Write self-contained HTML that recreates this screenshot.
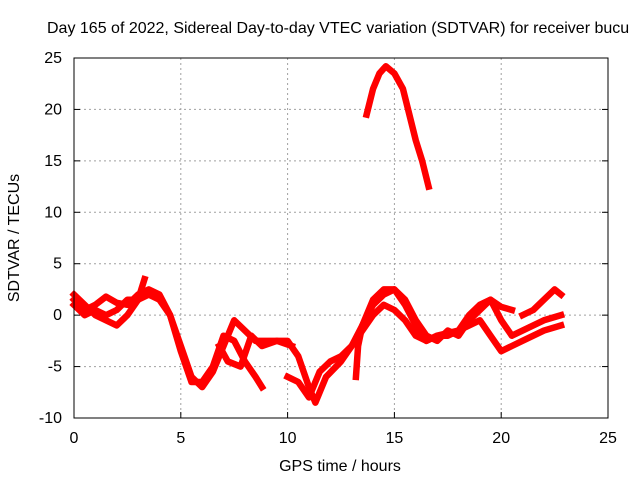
<!DOCTYPE html>
<html><head><meta charset="utf-8"><style>
body{margin:0;background:#fff}
svg{display:block;font-family:"Liberation Sans",sans-serif;font-size:16px}
</style></head><body>
<svg id="chart" width="640" height="480">
<text x="47" y="33">Day 165 of 2022, Sidereal Day-to-day VTEC variation (SDTVAR) for receiver bucu</text>
<g id="grid"></g>
<g id="ticks"></g>
<g id="series"></g>
<rect x="74" y="58" width="534" height="360" fill="none" stroke="#000"/>
<text x="340" y="471" text-anchor="middle">GPS time / hours</text>
<text transform="translate(19,238) rotate(-90)" text-anchor="middle">SDTVAR / TECUs</text>
</svg>
<script>
const xTicks=[0,5,10,15,20,25];
const yTicks=[-10,-5,0,5,10,15,20,25];
const sTop=[[13.7,19.5],[14,22],[14.3,23.5],[14.6,24.2],[15,23.5],[15.4,22],[15.7,19.5],[16,17],[16.3,15],[16.6,12.5]];
const sA=[[0,1.5],[0.5,0.5],[1,1],[1.5,1.8],[2,1.2],[2.5,1],[3,2],[3.5,2.5],[4,2],[4.5,0],[5,-3],[5.5,-6],[6,-7],[6.5,-5.5],[7,-3],[7.5,-0.5],[8,-1.5],[8.5,-2.5],[9,-2.5],[10,-2.5],[10.5,-4],[11,-7],[11.3,-8.5],[11.8,-6],[12.5,-4.5],[13,-3],[13.5,-1],[14,1.5],[14.5,2.5],[15,2.5],[15.5,1],[16,-1],[16.5,-2.5],[17,-2],[17.5,-2],[18,-1.5],[18.5,0],[19,1],[19.5,1.5],[20,0.8],[20.5,0.5]];
const sB=[[0,1],[0.5,0],[1,0.5],[1.5,0],[2,0.5],[2.5,1.5],[3,1.5],[3.5,2],[4,1.5],[4.5,0],[5,-3.5],[5.5,-6.5],[6,-6.5],[6.5,-5],[7,-2],[7.5,-2.5],[8,-4.5],[8.5,-6],[8.8,-7]];
const sC=[[10,-6],[10.5,-6.5],[11,-8],[11.5,-5.5],[12,-4.5],[12.5,-4],[13,-3],[13.5,-1.5],[14,0],[14.5,1],[15,0.5],[15.5,-0.5],[16,-2],[16.5,-2.5],[17,-2],[18,-1.5],[18.5,-1],[19,-0.5],[19.5,-2],[20,-3.5],[20.5,-3],[21,-2.5],[21.5,-2],[22,-1.5],[22.8,-1]];
const sD=[[13.2,-6],[13.3,-3],[13.5,-1],[14,1],[14.5,2],[15,2.5],[15.5,1.5],[16,-0.5],[16.5,-2],[17,-2.5],[17.5,-1.5],[18,-2],[18.5,-0.5],[19,0.5],[19.5,1.5],[20,-0.5],[20.5,-2],[21,-1.5],[21.5,-1],[22,-0.5],[22.8,0]];
const sE=[[21,0],[21.5,0.5],[22,1.5],[22.5,2.5],[22.8,2]];
const sG=[[0,2],[0.5,1],[1,0],[1.5,-0.5],[2,-1],[2.5,0],[3,1.5],[3.3,3.5]];
const sH=[[6.8,-3],[7.2,-4.5],[7.8,-5],[8.3,-2],[8.8,-3],[9.5,-2.5],[10.2,-3]];
const allSeries=[sTop,sA,sB,sC,sD,sE,sG,sH];
const X=v=>74+v*534/25, Y=v=>418-(v+10)*360/35;
const NS="http://www.w3.org/2000/svg";
const grid=document.getElementById('grid'),ticks=document.getElementById('ticks'),ser=document.getElementById('series');
function mk(tag,at,parent){const e=document.createElementNS(NS,tag);for(const k in at)e.setAttribute(k,at[k]);parent.appendChild(e);return e;}
xTicks.forEach(t=>{
 if(t>0&&t<25){const g=mk('line',{x1:X(t),x2:X(t),y1:58,y2:418,stroke:'#a0a0a0','stroke-dasharray':'2,3'},grid);
 
 }
 const l=mk('line',{x1:X(t),x2:X(t),y1:418,y2:412,stroke:'#000'},ticks);
 
 
 const tx=mk('text',{x:X(t),y:443,'text-anchor':'middle'},ticks);tx.textContent=t;
 
 
});
yTicks.forEach(t=>{
 if(t>-10&&t<25){const g=mk('line',{x1:74,x2:608,y1:Y(t),y2:Y(t),stroke:'#a0a0a0','stroke-dasharray':'2,3'},grid);
 
 }
 const l=mk('line',{x1:74,x2:80,y1:Y(t),y2:Y(t),stroke:'#000'},ticks);
 
 
 const l2=mk('line',{x1:602,x2:608,y1:Y(t),y2:Y(t),stroke:'#000'},ticks);
 
 
 const tx=mk('text',{x:62,y:Y(t)+5,'text-anchor':'end'},ticks);tx.textContent=t;
 
 
});
allSeries.forEach(s=>{
 const p=mk('polyline',{points:s.map(d=>X(d[0])+','+Y(d[1])).join(' '),fill:'none',stroke:'#ff0000','stroke-width':6.5,'stroke-linejoin':'round','stroke-linecap':'square'},ser);
 
 
});
</script>
</body></html>
